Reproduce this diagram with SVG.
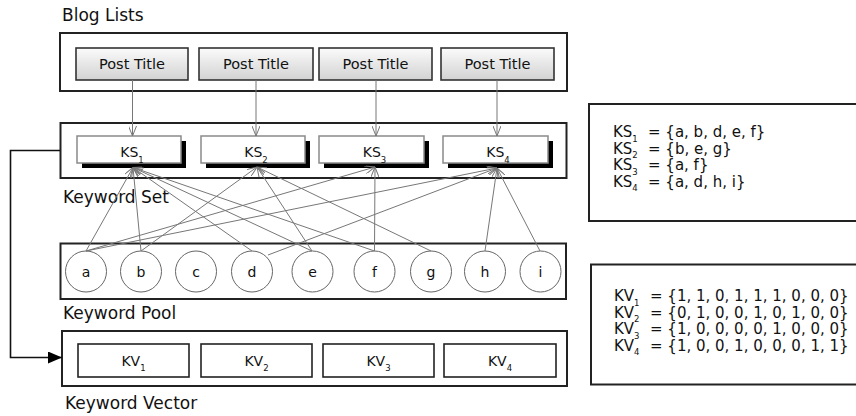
<svg xmlns="http://www.w3.org/2000/svg" width="856" height="416" viewBox="0 0 856 416">
  <style>
    text { font-family: "DejaVu Sans", Verdana, sans-serif; fill: #111; }
    .title { font-size: 17px; }
    .lbl { font-size: 14px; text-anchor: middle; }
    .post-lbl { font-size: 14.5px; }
    .sub { font-size: 8.5px; }
    .set { font-size: 15px; }
    .frame { fill: #fff; stroke: #222; stroke-width: 2; }
    .post { fill: url(#postFill); stroke: #333; stroke-width: 1.6; }
    .ks { fill: #fff; stroke: #8a8a8a; stroke-width: 1.5; }
    .shadow { fill: #000; }
    .kv { fill: #fff; stroke: #222; stroke-width: 1.6; }
    .word { fill: #fff; stroke: #666; stroke-width: 1; }
    .link { stroke: #777; stroke-width: 1; fill: none; marker-end: url(#openArrow); }
    .loop { stroke: #111; stroke-width: 1.6; fill: none; marker-end: url(#solidArrow); }
  </style>
  <defs>
    <linearGradient id="postFill" x1="0" y1="0" x2="0" y2="1">
      <stop offset="0" stop-color="#fbfbfb"/>
      <stop offset="1" stop-color="#d2d2d2"/>
    </linearGradient>
    <marker id="openArrow" viewBox="0 0 10 8" refX="10" refY="4" markerWidth="10" markerHeight="8" markerUnits="userSpaceOnUse" orient="auto">
      <path d="M0,0 L10,4 L0,8" fill="none" stroke="#777" stroke-width="1"/>
    </marker>
    <marker id="solidArrow" viewBox="0 0 14 12" refX="14" refY="6" markerWidth="14" markerHeight="12" markerUnits="userSpaceOnUse" orient="auto">
      <path d="M0,0 L14,6 L0,12 z" fill="#000"/>
    </marker>
  </defs>

  <rect width="856" height="416" fill="#fff"/>

  <!-- Blog lists -->
  <g id="blog-lists">
    <text class="title" x="62" y="21">Blog Lists</text>
    <rect class="frame" x="60" y="33" width="507" height="58"/>
  </g>
  <g id="post-1"><rect class="post" x="76" y="48" width="112" height="32"/><text class="lbl post-lbl" x="132" y="69">Post Title</text></g>
  <g id="post-2"><rect class="post" x="199" y="48" width="114" height="32"/><text class="lbl post-lbl" x="256" y="69">Post Title</text></g>
  <g id="post-3"><rect class="post" x="319" y="48" width="113" height="32"/><text class="lbl post-lbl" x="375.5" y="69">Post Title</text></g>
  <g id="post-4"><rect class="post" x="441" y="48" width="113" height="32"/><text class="lbl post-lbl" x="497.5" y="69">Post Title</text></g>

  <!-- Keyword sets -->
  <g id="keyword-set">
    <rect class="frame" x="60.5" y="123" width="506" height="55"/>
    <text class="title" x="63" y="203">Keyword Set</text>
  </g>
  <g id="ks-1"><rect class="shadow" x="82" y="141" width="104" height="27"/><rect class="ks" x="77" y="136" width="104" height="27"/><text class="lbl" x="132" y="157">KS<tspan class="sub" dy="5.5">1</tspan></text></g>
  <g id="ks-2"><rect class="shadow" x="206" y="141" width="104" height="27"/><rect class="ks" x="201" y="136" width="104" height="27"/><text class="lbl" x="256" y="157">KS<tspan class="sub" dy="5.5">2</tspan></text></g>
  <g id="ks-3"><rect class="shadow" x="324" y="141" width="105" height="27"/><rect class="ks" x="319" y="136" width="105" height="27"/><text class="lbl" x="374.5" y="157">KS<tspan class="sub" dy="5.5">3</tspan></text></g>
  <g id="ks-4"><rect class="shadow" x="448" y="141" width="105" height="27"/><rect class="ks" x="443" y="136" width="105" height="27"/><text class="lbl" x="498" y="157">KS<tspan class="sub" dy="5.5">4</tspan></text></g>

  <!-- Keyword pool -->
  <g id="keyword-pool">
    <rect class="frame" x="60.5" y="243.5" width="505.5" height="55.5"/>
    <text class="title" x="63" y="319">Keyword Pool</text>
  </g>
  <g id="kw-a"><circle class="word" cx="86" cy="271.5" r="20.5"/><text class="lbl" x="86" y="276.5">a</text></g>
  <g id="kw-b"><circle class="word" cx="141" cy="271.5" r="20.5"/><text class="lbl" x="141" y="276.5">b</text></g>
  <g id="kw-c"><circle class="word" cx="196" cy="271.5" r="20.5"/><text class="lbl" x="196" y="276.5">c</text></g>
  <g id="kw-d"><circle class="word" cx="252" cy="271.5" r="20.5"/><text class="lbl" x="252" y="276.5">d</text></g>
  <g id="kw-e"><circle class="word" cx="312.5" cy="271.5" r="20.5"/><text class="lbl" x="312.5" y="276.5">e</text></g>
  <g id="kw-f"><circle class="word" cx="374.5" cy="271.5" r="20.5"/><text class="lbl" x="374.5" y="276.5">f</text></g>
  <g id="kw-g"><circle class="word" cx="431" cy="271.5" r="20.5"/><text class="lbl" x="431" y="276.5">g</text></g>
  <g id="kw-h"><circle class="word" cx="485" cy="271.5" r="20.5"/><text class="lbl" x="485" y="276.5">h</text></g>
  <g id="kw-i"><circle class="word" cx="540.5" cy="271.5" r="20.5"/><text class="lbl" x="540.5" y="276.5">i</text></g>

  <!-- Keyword vectors -->
  <g id="keyword-vector">
    <rect class="frame" x="62" y="331" width="505" height="55"/>
    <text class="title" x="65" y="409">Keyword Vector</text>
  </g>
  <g id="kv-1"><rect class="kv" x="78" y="344" width="111" height="33"/><text class="lbl" x="133.5" y="366">KV<tspan class="sub" dy="5">1</tspan></text></g>
  <g id="kv-2"><rect class="kv" x="201" y="344" width="111" height="33"/><text class="lbl" x="256.5" y="366">KV<tspan class="sub" dy="5">2</tspan></text></g>
  <g id="kv-3"><rect class="kv" x="323" y="344" width="111" height="33"/><text class="lbl" x="378.5" y="366">KV<tspan class="sub" dy="5">3</tspan></text></g>
  <g id="kv-4"><rect class="kv" x="444" y="344" width="112" height="33"/><text class="lbl" x="500" y="366">KV<tspan class="sub" dy="5">4</tspan></text></g>

  <!-- Set definitions -->
  <g id="ks-definitions">
    <rect class="frame" x="589" y="104" width="290" height="117"/>
    <text class="set" x="613" y="137">KS<tspan class="sub" dy="4.5">1</tspan><tspan x="648" dy="-4.5">= {a, b, d, e, f}</tspan></text>
    <text class="set" x="613" y="153.5">KS<tspan class="sub" dy="4.5">2</tspan><tspan x="648" dy="-4.5">= {b, e, g}</tspan></text>
    <text class="set" x="613" y="170">KS<tspan class="sub" dy="4.5">3</tspan><tspan x="648" dy="-4.5">= {a, f}</tspan></text>
    <text class="set" x="613" y="186.5">KS<tspan class="sub" dy="4.5">4</tspan><tspan x="648" dy="-4.5">= {a, d, h, i}</tspan></text>
  </g>
  <g id="kv-definitions">
    <rect class="frame" x="591" y="264.5" width="290" height="120"/>
    <text class="set" x="614" y="301">KV<tspan class="sub" dy="4.5">1</tspan><tspan x="650" dy="-4.5">= {1, 1, 0, 1, 1, 1, 0, 0, 0}</tspan></text>
    <text class="set" x="614" y="317.5">KV<tspan class="sub" dy="4.5">2</tspan><tspan x="650" dy="-4.5">= {0, 1, 0, 0, 1, 0, 1, 0, 0}</tspan></text>
    <text class="set" x="614" y="334">KV<tspan class="sub" dy="4.5">3</tspan><tspan x="650" dy="-4.5">= {1, 0, 0, 0, 0, 1, 0, 0, 0}</tspan></text>
    <text class="set" x="614" y="350.5">KV<tspan class="sub" dy="4.5">4</tspan><tspan x="650" dy="-4.5">= {1, 0, 0, 1, 0, 0, 0, 1, 1}</tspan></text>
  </g>

  <!-- Connectors -->
  <g id="connectors">
    <line class="link" x1="132.5" y1="80" x2="132.5" y2="136"/>
    <line class="link" x1="256" y1="80" x2="256" y2="136"/>
    <line class="link" x1="376" y1="80" x2="376" y2="136"/>
    <line class="link" x1="497" y1="80" x2="497" y2="136"/>

    <line class="link" x1="86" y1="251" x2="133" y2="167.5"/>
    <line class="link" x1="141" y1="251" x2="133" y2="167.5"/>
    <line class="link" x1="252" y1="251" x2="133" y2="167.5"/>
    <line class="link" x1="312" y1="251" x2="133" y2="167.5"/>
    <line class="link" x1="374.5" y1="251" x2="133" y2="167.5"/>

    <line class="link" x1="141" y1="251" x2="257" y2="167"/>
    <line class="link" x1="312" y1="251" x2="257" y2="167"/>
    <line class="link" x1="431" y1="251" x2="257" y2="167"/>

    <line class="link" x1="86" y1="251" x2="375" y2="167"/>
    <line class="link" x1="374.5" y1="251" x2="375" y2="167"/>

    <line class="link" x1="86" y1="251" x2="497" y2="168"/>
    <line class="link" x1="268" y1="255" x2="497" y2="168"/>
    <line class="link" x1="485" y1="251" x2="497" y2="168"/>
    <line class="link" x1="540" y1="251" x2="497" y2="168"/>

    <path class="loop" d="M60,150.5 H10.5 V357.5 H62"/>
  </g>
</svg>
